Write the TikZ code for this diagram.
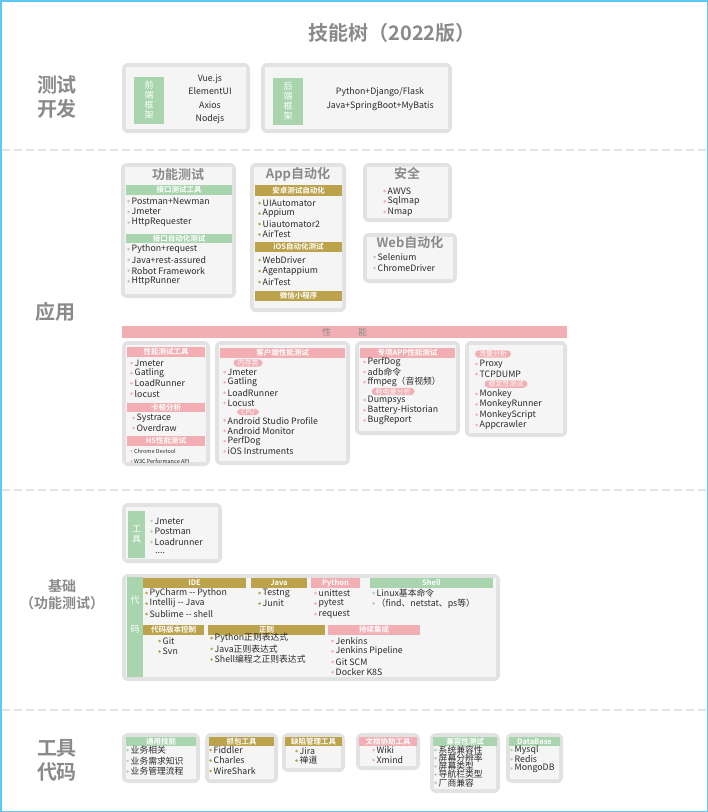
\documentclass[tikz,border=0pt]{standalone}
\usepackage{fontspec}
\setmainfont{Noto Sans CJK SC}[BoldFont={Noto Sans CJK SC Bold}]
\definecolor{gr}{HTML}{A8D5AE}
\definecolor{gd}{HTML}{BCA24A}
\definecolor{pk}{HTML}{F2AEB2}
\definecolor{bx}{HTML}{E2E2E2}
\definecolor{inb}{HTML}{F5F5F5}
\definecolor{tx}{HTML}{2A2A2A}
\definecolor{ttl}{HTML}{8A8A8A}
\definecolor{cy}{HTML}{5BC8F5}
\tikzset{
 itm/.style={anchor=west,inner sep=0pt,font=\fontsize{8.8}{9}\selectfont,text=tx},
 hd/.style={inner sep=0pt,font=\bfseries\fontsize{7.5}{8}\selectfont,text=white},
 sec/.style={font=\bfseries\fontsize{20}{24}\selectfont,text=ttl,align=center},
 bt/.style={font=\bfseries\fontsize{13}{14}\selectfont,text=ttl},
 pill/.style={fill=pk,rounded corners=4pt,inner xsep=4pt,inner ysep=0.5pt,font=\fontsize{7}{8}\selectfont,text=white},
 vtag/.style={font=\fontsize{9}{10}\selectfont,text=white,align=center,inner sep=0pt}
}
\newcommand\panel[4]{\fill[bx,rounded corners=6pt] (#1,#2) rectangle (#3,#4);
 \fill[inb] ({#1+4},{#2+4}) rectangle ({#3-4},{#4-4});}
\newcommand\hdr[6]{\path[fill=#5] (#1,#2) rectangle node[hd]{#6} (#3,#4);}
\newcommand\itemlist[5][10.4]{\foreach \t [count=\i] in {#5}{
 \fill[#4] ({#2+1.6},{#3+(\i-1)*#1}) circle (1.4pt);
 \node[itm] at ({#2+4.5},{#3+(\i-1)*#1}) {\t};}}
\begin{document}
\begin{tikzpicture}[x=1pt,y=-1pt]
\useasboundingbox (0,0) rectangle (708,812);
\draw[cy,line width=1.5pt] (0.75,0.75) rectangle (707.25,811.25);
\node[font=\bfseries\fontsize{20}{22}\selectfont,text=ttl] (title) at (392,33) {技能树（2022版）};
\foreach \yy in {150,490,710} \draw[bx,line width=1.2pt,dash pattern=on 8pt off 4pt] (2,\yy) -- (706,\yy);
\node[sec] (s1) at (57,97) {测试\\开发};
\node[sec] (s2) at (55,312) {应用};
\node[font=\bfseries\fontsize{14}{17}\selectfont,text=ttl,align=center] (s3) at (62,595) {基础\\（功能测试）};
\node[sec] (s4) at (57,760) {工具\\代码};
% row 1
\panel{122}{63}{250}{133}
\path[fill=gr] (134,77) rectangle node[vtag]{前\\端\\框\\架} (164,124);
\node[align=center,font=\fontsize{8.8}{13.5}\selectfont,text=tx] (fe) at (210,99) {Vue.js\\ElementUI\\Axios\\Nodejs};
\panel{261}{63}{452}{133}
\path[fill=gr] (273,78) rectangle node[vtag]{后\\端\\框\\架} (303,125);
\node[align=center,font=\fontsize{8.8}{13.5}\selectfont,text=tx] (be) at (380,99) {Python+Django/Flask\\Java+SpringBoot+MyBatis};
% row 2
\panel{121}{163}{236}{298}
\node[bt] (gn) at (178,175) {功能测试};
\hdr{126}{185}{232}{195}{gr}{接口测试工具}
\itemlist[10.8]{127}{201}{gr}{Postman+Newman,Jmeter,HttpRequester}
\hdr{126}{234}{232}{243}{gr}{接口自动化测试}
\itemlist[10.8]{127}{249}{gr}{Python+request,Java+rest-assured,Robot Framework,HttpRunner}
\panel{250}{163}{346}{312}
\node[bt] (app) at (298,174) {App自动化};
\hdr{255}{185}{342}{196}{gd}{安卓测试自动化}
\itemlist[10.5]{258}{203}{gd}{UIAutomator,Appium,Uiautomator2,AirTest}
\hdr{255}{242}{342}{252}{gd}{iOS自动化测试}
\itemlist[11]{258}{260}{gd}{WebDriver,Agentappium,AirTest}
\hdr{255}{291}{342}{301}{gd}{微信小程序}
\panel{363}{163}{452}{222}
\node[bt] (aq) at (407,174) {安全};
\itemlist[10.4]{383}{191}{pk}{AWVS,Sqlmap,Nmap}
\panel{363}{233}{457}{283}
\node[bt] (web) at (410,243) {Web自动化};
\itemlist[11]{373}{257}{gr}{Selenium,ChromeDriver}
% performance
\path[fill=pk] (122,326) rectangle node[font=\fontsize{9}{10}\selectfont,text=ttl]{性　　　能} (567,338);
\panel{122}{341}{210}{466}
\hdr{127}{347}{205}{357}{pk}{性能测试工具}
\itemlist[10.2]{130}{363}{pk}{Jmeter,Gatling,LoadRunner,locust}
\hdr{127}{403}{205}{412}{pk}{卡顿分析}
\itemlist[10]{132}{418}{pk}{Systrace,Overdraw}
\hdr{127}{436}{205}{446}{pk}{H5性能测试}
\fill[pk] (131.5,451) circle (1.1pt);
\node[itm,font=\fontsize{5.5}{6}\selectfont] (cd) at (134,451) {Chrome Devtool};
\fill[pk] (131.5,461) circle (1.1pt);
\node[itm,font=\fontsize{5.5}{6}\selectfont] (w3c) at (134,461) {W3C Performance API};
\panel{215}{341}{350}{465}
\hdr{220}{348}{345}{358}{pk}{客户端性能测试}
\node[pill] (nc) at (248,363) {内存类};
\itemlist[10.3]{223}{372}{pk}{Jmeter,Gatling,LoadRunner,Locust}
\node[pill] (cpu) at (248,412) {CPU};
\itemlist[10.3]{223}{420.5}{pk}{Android Studio Profile,Android Monitor,PerfDog,iOS Instruments}
\panel{355}{341}{460}{435}
\hdr{360}{348}{455}{358}{pk}{专项APP性能测试}
\itemlist[10]{363}{362}{pk}{PerfDog,adb命令,ffmpeg（音视频）}
\node[pill] (hd) at (393,391.5) {耗电量分析};
\itemlist[10.2]{363}{400}{pk}{Dumpsys,Battery-Historian,BugReport}
\panel{465}{341}{567}{437}
\node[pill] (ll) at (493,354) {流量分析};
\itemlist[10]{475}{364}{pk}{Proxy,TCPDUMP}
\node[pill] (wd) at (506,384) {稳定性测试};
\itemlist[10.3]{475}{394}{pk}{Monkey,MonkeyRunner,MonkeyScript,Appcrawler}
% row 3
\panel{122}{503}{222}{563}
\path[fill=gr] (128,511) rectangle node[vtag]{工\\具} (145,558);
\itemlist[10.5]{150}{521}{gr}{Jmeter,Postman,Loadrunner}
\node[itm] (dots) at (155,553) {....};
\panel{122}{574}{500}{681}
\path[fill=gr] (127,577) rectangle (143,677);
\node[vtag] (dai) at (135,600) {代};
\node[vtag] (ma) at (135,629) {码};
\hdr{143}{578}{246}{588}{gd}{IDE}
\itemlist[10.5]{145}{593}{gd}{PyCharm -{}- Python,Intellij -{}- Java,Sublime -{}- shell}
\hdr{251}{578}{307}{588}{gd}{Java}
\itemlist[10.5]{258}{593}{gd}{Testng,Junit}
\hdr{311}{578}{360}{588}{pk}{Python}
\itemlist[10.5]{314}{593}{pk}{unittest,pytest,request}
\hdr{370}{578}{493}{588}{gr}{Shell}
\itemlist[10.5]{372}{593}{gr}{Linux基本命令,（find、netstat、ps等）}
\hdr{143}{625}{204}{635}{gd}{代码版本控制}
\itemlist[10.5]{158}{641}{gd}{Git,Svn}
\hdr{208}{625}{325}{635}{gd}{正则}
\itemlist[10.8]{210}{638}{gd}{Python正则表达式,Java正则表达式,Shell编程之正则表达式}
\hdr{328}{625}{420}{635}{pk}{持续集成}
\itemlist[10.4]{331}{641}{pk}{Jenkins,Jenkins Pipeline,Git SCM,Docker  K8S}
% row 4
\panel{122}{733}{200}{783}
\hdr{126}{737}{196}{746}{gr}{通用技能}
\itemlist[10.8]{126}{750}{gr}{业务相关,业务需求知识,业务管理流程}
\panel{205}{733}{278}{783}
\hdr{209}{737}{274}{746}{gd}{抓包工具}
\itemlist[10.5]{209}{750}{gd}{Fiddler,Charles,WireShark}
\panel{282}{733}{345}{772}
\hdr{285}{737}{342}{746}{gd}{缺陷管理工具}
\itemlist[9.5]{295}{751}{gd}{Jira,禅道}
\panel{356}{733}{420}{770}
\hdr{359}{737}{417}{746}{pk}{文档协助工具}
\itemlist[10]{372}{750}{pk}{Wiki,Xmind}
\panel{430}{733}{500}{793}
\hdr{433}{737}{497}{746}{gr}{兼容性测试}
\itemlist[8.2]{434}{750}{gr}{系统兼容性,屏幕分辨率,屏幕类型,导航栏类型,厂商兼容}
\panel{506}{733}{563}{783}
\hdr{509}{737}{560}{746}{gr}{DataBase}
\itemlist[9.2]{510}{750}{gr}{Mysql,Redis,MongoDB}
\end{tikzpicture}
\end{document}
